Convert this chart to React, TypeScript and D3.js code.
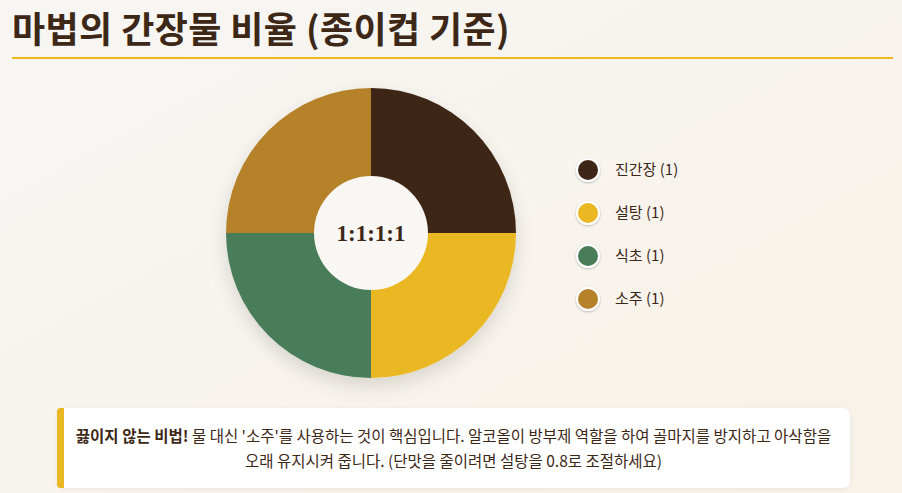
import React from "react";
import * as d3 from "d3";

const title = "마법의 간장물 비율 (종이컵 기준)";
const categories = ["진간장", "설탕", "식초", "소주"];
const values = [1, 1, 1, 1];
const colors = ["#3d2615", "#e9b824", "#4a7c59", "#b5822a"];
const centerLabel = "1:1:1:1";
const noteBold = "끓이지 않는 비법!";
const noteLine1 = " 물 대신 '소주'를 사용하는 것이 핵심입니다. 알코올이 방부제 역할을 하여 골마지를 방지하고 아삭함을";
const noteLine2 = "오래 유지시켜 줍니다. (단맛을 줄이려면 설탕을 0.8로 조절하세요)";

const W = 902;
const H = 493;
const FONT = "'Noto Sans CJK KR', 'Noto Sans', sans-serif";
const TEXT = "#3d2817";

export default function App() {
  const cx = 371, cy = 233, R = 145, r = 57;
  const pie = d3.pie<number>().sort(null).value((d) => d)(values);
  const arc = d3.arc<d3.PieArcDatum<number>>().innerRadius(0).outerRadius(R);
  const legendY = d3.scalePoint<string>().domain(categories).range([170, 299]);

  return (
    <svg width={W} height={H} style={{ position: "absolute", left: 0, top: 0, display: "block" }}>
      <defs>
        <linearGradient id="bg" x1="0" y1="0" x2="1" y2="1">
          <stop offset="0" stopColor="#f7f6f3" />
          <stop offset="1" stopColor="#f8f2e8" />
        </linearGradient>
        <filter id="pieShadow" x="-30%" y="-30%" width="160%" height="160%">
          <feDropShadow dx="0" dy="8" stdDeviation="9" floodColor="#000" floodOpacity="0.13" />
        </filter>
        <filter id="dotShadow" x="-50%" y="-50%" width="200%" height="200%">
          <feDropShadow dx="0" dy="1" stdDeviation="1.2" floodColor="#000" floodOpacity="0.25" />
        </filter>
        <filter id="boxShadow" x="-10%" y="-30%" width="120%" height="160%">
          <feDropShadow dx="0" dy="1" stdDeviation="2" floodColor="#000" floodOpacity="0.06" />
        </filter>
      </defs>
      <rect x={0} y={0} width={W} height={H} fill="url(#bg)" />
      <text x={12} y={43} fontFamily={FONT} fontWeight={700} fontSize={36} letterSpacing={0.4} fill={TEXT}>
        {title}
      </text>
      <rect x={12} y={57} width={881} height={2} fill="#f0b91a" />

      <g transform={`translate(${cx},${cy})`}>
        <g filter="url(#pieShadow)">
          {pie.map((d, i) => (
            <path key={i} d={arc(d) || ""} fill={colors[i]} />
          ))}
        </g>
        <circle r={r} fill="#f9f7f3" />
        <text
          y={0}
          dy="0.35em"
          textAnchor="middle"
          fontFamily="'Liberation Serif', 'DejaVu Serif', serif"
          fontWeight={700}
          fontSize={23}
          fill={TEXT}
        >
          {centerLabel}
        </text>
      </g>

      <g>
        {categories.map((c, i) => (
          <g key={c} transform={`translate(588,${legendY(c)})`}>
            <circle r={11} fill={colors[i]} stroke="#fff" strokeWidth={2} filter="url(#dotShadow)" />
            <text x={27} dy="0.35em" fontFamily={FONT} fontSize={15} fill={TEXT}>
              {c} ({values[i]})
            </text>
          </g>
        ))}
      </g>

      <g filter="url(#boxShadow)">
        <rect x={57} y={408} width={793} height={80} rx={7} fill="#ffffff" />
      </g>
      <path d="M64,408 H60 Q57,408 57,413 V483 Q57,488 60,488 H64 Z" fill="#e9b824" />
      <rect x={57} y={410} width={3} height={76} fill="#e9b824" />
      <text x={453.5} y={442} textAnchor="middle" fontFamily={FONT} fontSize={15.5} fill={TEXT}>
        <tspan fontWeight={700}>{noteBold}</tspan>
        <tspan>{noteLine1}</tspan>
      </text>
      <text x={453.5} y={467} textAnchor="middle" fontFamily={FONT} fontSize={15.5} fill={TEXT}>
        {noteLine2}
      </text>
    </svg>
  );
}
